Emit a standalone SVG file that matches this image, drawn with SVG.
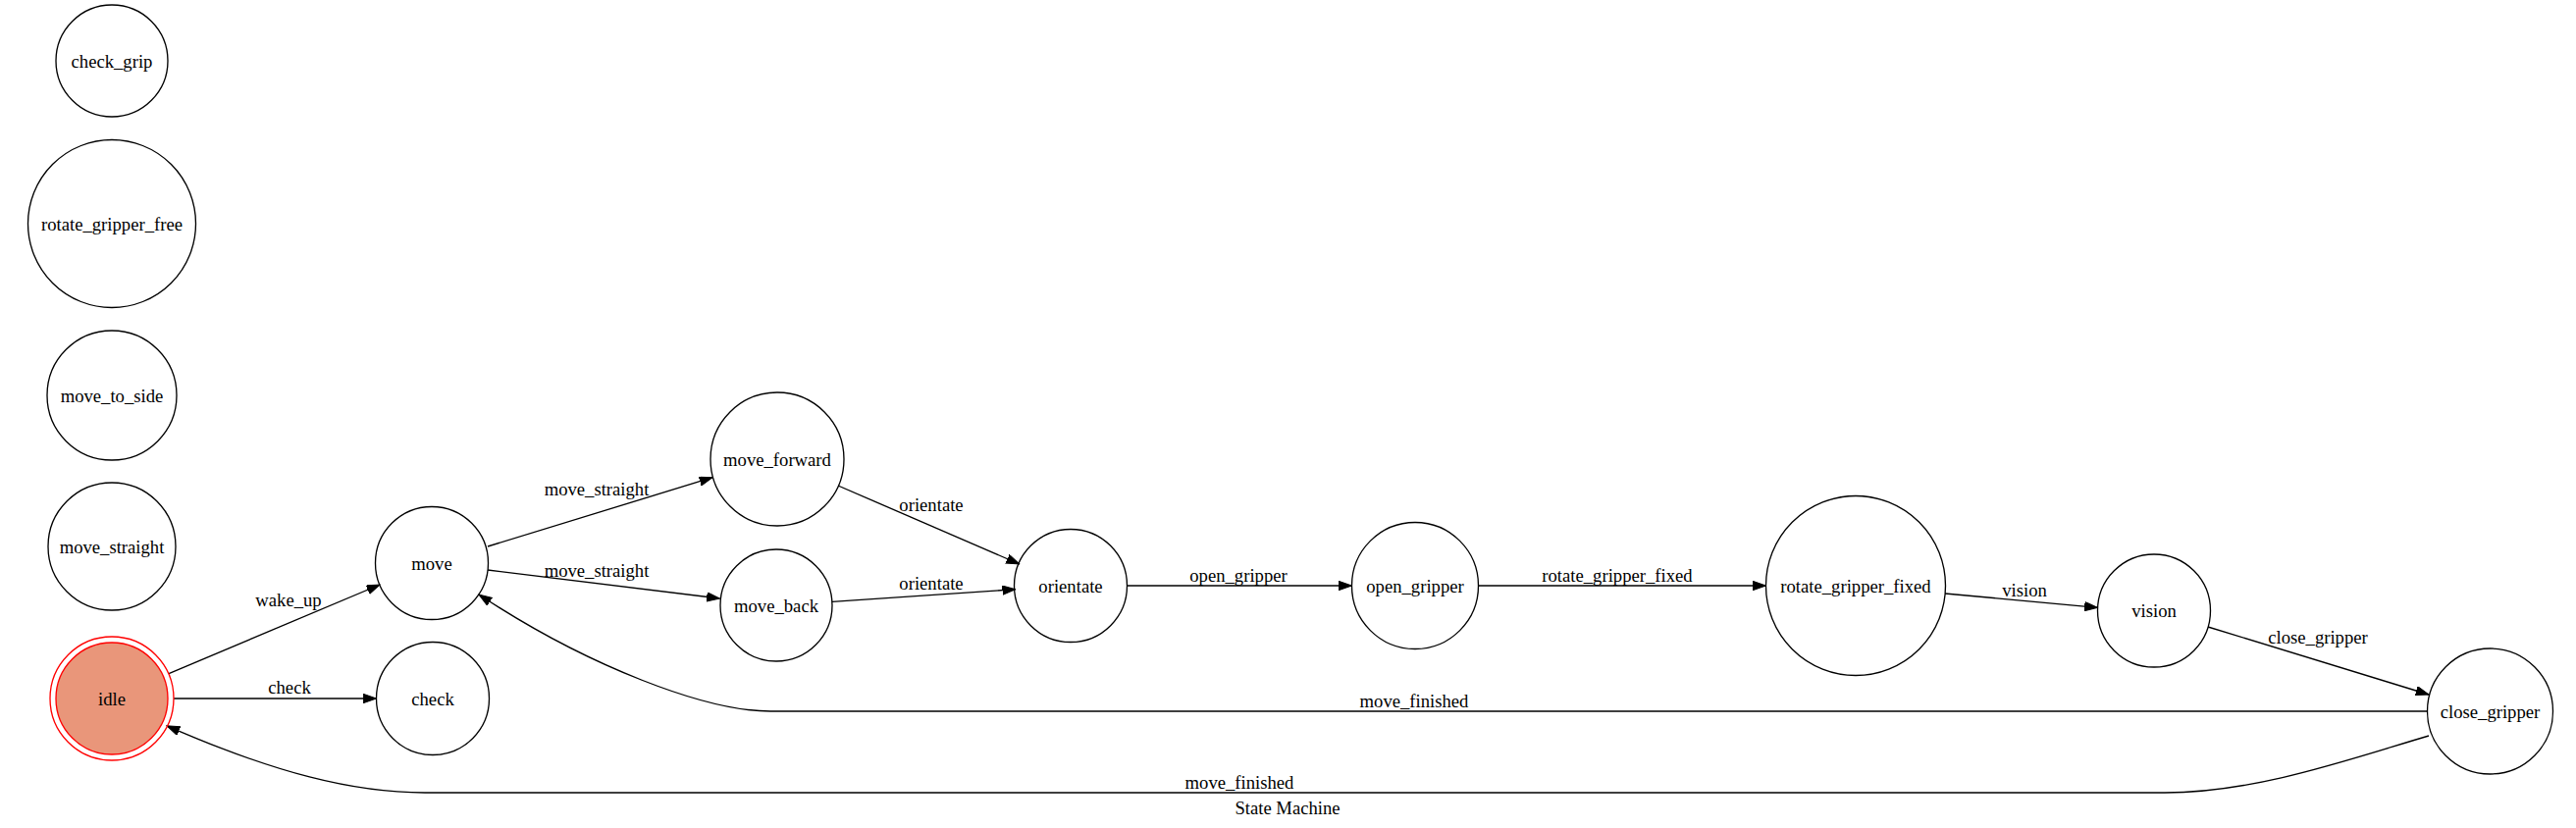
<svg xmlns="http://www.w3.org/2000/svg" width="2625" height="844" viewBox="0 0 2625 844">
<defs>
<style>
.n ellipse{fill:none;stroke:#000;stroke-width:1.33}
text{font-family:"Liberation Serif","Times New Roman",serif;font-size:18.67px;text-anchor:middle;dominant-baseline:central;fill:#000}
.e path{fill:none;stroke:#000;stroke-width:1.33}
</style>
<marker id="arr" markerUnits="userSpaceOnUse" markerWidth="14" markerHeight="10" refX="13.3" refY="4.67" orient="auto">
<path d="M0,0 L13.3,4.67 L0,9.33 z" fill="#000" stroke="#000" stroke-width="1"/>
</marker>
</defs>
<rect width="2625" height="844" fill="#fff"/>
<g id="edges" class="e">
<path d="M172,686.6 L387,596" marker-end="url(#arr)"/>
<path d="M177,712 L383.5,712" marker-end="url(#arr)"/>
<path d="M497,557 L726,486.7" marker-end="url(#arr)"/>
<path d="M497,581 L733.4,610" marker-end="url(#arr)"/>
<path d="M854,495 L1038.8,575" marker-end="url(#arr)"/>
<path d="M848,613.3 L1034.8,600.7" marker-end="url(#arr)"/>
<path d="M1148.5,597 L1377.5,597" marker-end="url(#arr)"/>
<path d="M1506.5,597 L1799.5,597" marker-end="url(#arr)"/>
<path d="M1982,605 L2137.5,619.3" marker-end="url(#arr)"/>
<path d="M2250,639 L2475,708" marker-end="url(#arr)"/>
<path d="M2473.5,725 L785,725 C720,725 600,680 488,606" marker-end="url(#arr)"/>
<path d="M2475,750 C2400,772 2300,808 2206,808 L433,808 C360,808 280,788 170,739.8" marker-end="url(#arr)"/>
<text x="294" y="611">wake_up</text>
<text x="295" y="700">check</text>
<text x="608" y="498">move_straight</text>
<text x="608" y="581">move_straight</text>
<text x="949" y="514">orientate</text>
<text x="949" y="594">orientate</text>
<text x="1262" y="586">open_gripper</text>
<text x="1648" y="586">rotate_gripper_fixed</text>
<text x="2063" y="601">vision</text>
<text x="2362" y="649">close_gripper</text>
<text x="1441" y="714">move_finished</text>
<text x="1263" y="797">move_finished</text>
</g>
<g id="check_grip" class="n"><ellipse cx="114" cy="62" rx="57" ry="57"/><text x="114" y="62">check_grip</text></g>
<g id="rotate_gripper_free" class="n"><ellipse cx="114" cy="228" rx="85.5" ry="85.5"/><text x="114" y="228">rotate_gripper_free</text></g>
<g id="move_to_side" class="n"><ellipse cx="114" cy="403" rx="66" ry="66"/><text x="114" y="403">move_to_side</text></g>
<g id="move_straight" class="n"><ellipse cx="114" cy="557" rx="65" ry="65"/><text x="114" y="557">move_straight</text></g>
<g id="idle" class="n"><ellipse cx="114" cy="712" rx="57" ry="57" style="fill:#e9967a;stroke:#f00"/><ellipse cx="114" cy="712" rx="63" ry="63" style="stroke:#f00"/><text x="114" y="712">idle</text></g>
<g id="check" class="n"><ellipse cx="441" cy="712" rx="57.5" ry="57.5"/><text x="441" y="712">check</text></g>
<g id="move" class="n"><ellipse cx="440" cy="574" rx="57.5" ry="57.5"/><text x="440" y="574">move</text></g>
<g id="move_forward" class="n"><ellipse cx="792" cy="468" rx="68" ry="68"/><text x="792" y="468">move_forward</text></g>
<g id="move_back" class="n"><ellipse cx="791" cy="617" rx="57" ry="57"/><text x="791" y="617">move_back</text></g>
<g id="orientate" class="n"><ellipse cx="1091" cy="597" rx="57.5" ry="57.5"/><text x="1091" y="597">orientate</text></g>
<g id="open_gripper" class="n"><ellipse cx="1442" cy="597" rx="64.5" ry="64.5"/><text x="1442" y="597">open_gripper</text></g>
<g id="rotate_gripper_fixed" class="n"><ellipse cx="1891" cy="597" rx="91.5" ry="91.5"/><text x="1891" y="597">rotate_gripper_fixed</text></g>
<g id="vision" class="n"><ellipse cx="2195" cy="622.5" rx="57.5" ry="57.5"/><text x="2195" y="622.5">vision</text></g>
<g id="close_gripper" class="n"><ellipse cx="2537.5" cy="725" rx="64" ry="64"/><text x="2537.5" y="725">close_gripper</text></g>
<text x="1312" y="823">State Machine</text>
</svg>
